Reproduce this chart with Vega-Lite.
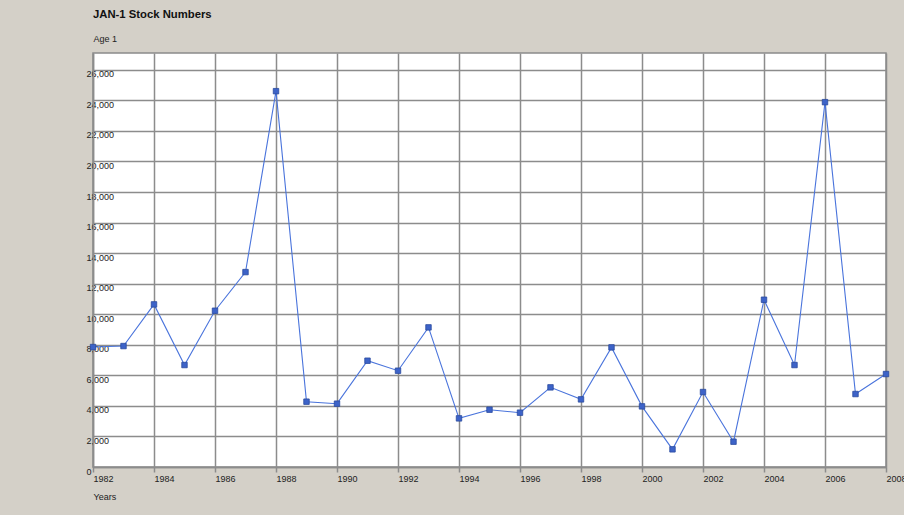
{
  "$schema": "https://vega.github.io/schema/vega-lite/v6.json",
  "width": 793,
  "height": 414,
  "autosize": {"type": "none"},
  "padding": {"left": 93, "top": 53, "right": 18, "bottom": 48},
  "background": "#d4d0c8",
  "title": {
    "text": "JAN-1 Stock Numbers",
    "anchor": "start",
    "frame": "group",
    "font": "Liberation Sans",
    "fontSize": 11.3,
    "fontWeight": "bold",
    "color": "#111111",
    "offset": 14
  },
  "data": {
    "values": [
      {"year": 1982, "value": 7852},
      {"year": 1983, "value": 7917},
      {"year": 1984, "value": 10643},
      {"year": 1985, "value": 6674},
      {"year": 1986, "value": 10229},
      {"year": 1987, "value": 12759},
      {"year": 1988, "value": 24602},
      {"year": 1989, "value": 4275},
      {"year": 1990, "value": 4144},
      {"year": 1991, "value": 6957},
      {"year": 1992, "value": 6303},
      {"year": 1993, "value": 9139},
      {"year": 1994, "value": 3184},
      {"year": 1995, "value": 3751},
      {"year": 1996, "value": 3555},
      {"year": 1997, "value": 5213},
      {"year": 1998, "value": 4427},
      {"year": 1999, "value": 7830},
      {"year": 2000, "value": 3969},
      {"year": 2001, "value": 1156},
      {"year": 2002, "value": 4907},
      {"year": 2003, "value": 1657},
      {"year": 2004, "value": 10949},
      {"year": 2005, "value": 6674},
      {"year": 2006, "value": 23882},
      {"year": 2007, "value": 4776},
      {"year": 2008, "value": 6085}
    ]
  },
  "encoding": {
    "x": {
      "field": "year",
      "type": "quantitative",
      "scale": {"domain": [1982, 2008], "nice": false, "zero": false},
      "axis": {
        "title": "Years",
        "values": [1982, 1984, 1986, 1988, 1990, 1992, 1994, 1996, 1998, 2000, 2002, 2004, 2006, 2008],
        "format": "d",
        "labelAlign": "left",
        "labelBaseline": "top",
        "labelFlush": false,
        "labelOverlap": false,
        "labelPadding": 2,
        "labelDx": 1,
        "tickSize": 5,
        "titleX": 0,
        "titleY": 29,
        "titleAlign": "left",
        "titleBaseline": "middle"
      }
    },
    "y": {
      "field": "value",
      "type": "quantitative",
      "scale": {"domain": [0, 27100], "nice": false},
      "axis": {
        "title": "Age 1",
        "values": [0, 2000, 4000, 6000, 8000, 10000, 12000, 14000, 16000, 18000, 20000, 22000, 24000, 26000],
        "format": ",d",
        "labelAlign": "left",
        "labelBaseline": "top",
        "labelFlush": false,
        "labelOverlap": false,
        "ticks": false,
        "tickSize": 0,
        "labelPadding": 7,
        "titleAngle": 0,
        "titleX": 0,
        "titleY": -15,
        "titleAlign": "left",
        "titleBaseline": "middle"
      }
    }
  },
  "layer": [
    {
      "mark": {"type": "line", "color": "#4a74dc", "strokeWidth": 1.1}
    },
    {
      "mark": {"type": "square", "size": 30, "filled": true, "fill": "#3d63c8", "stroke": "#2a4a9e", "strokeWidth": 0.8, "opacity": 1}
    }
  ],
  "config": {
    "view": {"fill": "#ffffff", "stroke": "#8a8a8a", "strokeWidth": 1.5},
    "axis": {
      "grid": true,
      "gridColor": "#8c8c8c",
      "gridWidth": 1.5,
      "gridOpacity": 1,
      "domainColor": "#8c8c8c",
      "domainWidth": 1.5,
      "tickColor": "#8c8c8c",
      "tickWidth": 1.5,
      "labelFont": "Liberation Sans",
      "labelFontSize": 9,
      "labelColor": "#222222",
      "titleFont": "Liberation Sans",
      "titleFontSize": 9,
      "titleFontWeight": "normal",
      "titleColor": "#222222"
    }
  }
}
